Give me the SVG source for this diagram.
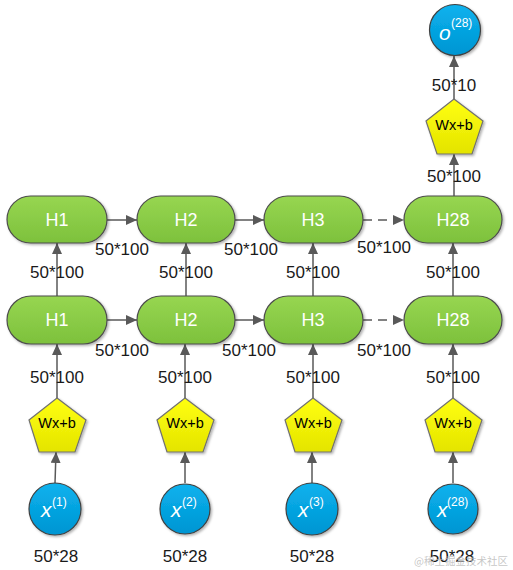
<svg xmlns="http://www.w3.org/2000/svg" width="513" height="570" viewBox="0 0 513 570">
<defs>
<linearGradient id="gGreen" x1="0" y1="0" x2="0" y2="1"><stop offset="0" stop-color="#97D651"/><stop offset="1" stop-color="#7DC13C"/></linearGradient>
<linearGradient id="gBlue" x1="0" y1="0" x2="0" y2="1"><stop offset="0" stop-color="#0BB2EE"/><stop offset="1" stop-color="#0095D2"/></linearGradient>
<linearGradient id="gYellow" x1="0" y1="0" x2="0" y2="1"><stop offset="0" stop-color="#FFFF10"/><stop offset="1" stop-color="#E4E400"/></linearGradient>
<filter id="sh" x="-20%" y="-20%" width="150%" height="150%"><feDropShadow dx="1.5" dy="1.5" stdDeviation="1.2" flood-color="#000" flood-opacity="0.3"/></filter>
<marker id="ah" markerUnits="userSpaceOnUse" markerWidth="12" markerHeight="10" refX="11" refY="5" orient="auto"><path d="M0,0 L11,5 L0,10 z" fill="#595959"/></marker>
</defs>
<style>
.h{fill:url(#gGreen);stroke:#4d4d4d;stroke-width:1.2;filter:url(#sh)}
.c{fill:url(#gBlue);stroke:#404040;stroke-width:1.2;filter:url(#sh)}
.p{fill:url(#gYellow);stroke:#707070;stroke-width:1.2;filter:url(#sh)}
.ht{font-family:"Liberation Sans",Arial,sans-serif;font-size:18px;fill:#fff;text-anchor:middle}
.pt{font-family:"Liberation Sans",Arial,sans-serif;font-size:14.5px;fill:#000;text-anchor:middle}
.lb{font-family:"Liberation Sans",Arial,sans-serif;font-size:17px;fill:#1a1a1a;text-anchor:middle}
.ct{font-family:"Liberation Sans",Arial,sans-serif;fill:#fff;font-style:italic;font-size:21px}
.sp{font-family:"Liberation Sans",Arial,sans-serif;fill:#fff;font-style:normal;font-size:12px}
.ln{stroke:#595959;stroke-width:1.5;fill:none;marker-end:url(#ah)}
.dl{stroke:#595959;stroke-width:1.5;fill:none;stroke-dasharray:9,6;marker-end:url(#ah)}
</style>
<g id="connectors">
<line class="ln" x1="454" y1="99" x2="454" y2="56"/>
<line class="ln" x1="454" y1="196" x2="454" y2="154"/>
<line class="ln" x1="107" y1="220" x2="137" y2="220"/>
<line class="ln" x1="235" y1="220" x2="264" y2="220"/>
<line class="dl" x1="363" y1="220" x2="404" y2="220"/>
<line class="ln" x1="107" y1="320" x2="137" y2="320"/>
<line class="ln" x1="235" y1="320" x2="264" y2="320"/>
<line class="dl" x1="363" y1="320" x2="404" y2="320"/>
<line class="ln" x1="57" y1="296" x2="57" y2="243"/>
<line class="ln" x1="186" y1="296" x2="186" y2="243"/>
<line class="ln" x1="313" y1="296" x2="313" y2="243"/>
<line class="ln" x1="453" y1="296" x2="453" y2="243"/>
<line class="ln" x1="57" y1="398" x2="57" y2="344"/>
<line class="ln" x1="185" y1="398" x2="185" y2="344"/>
<line class="ln" x1="313" y1="398" x2="313" y2="344"/>
<line class="ln" x1="453" y1="398" x2="453" y2="344"/>
<line class="ln" x1="55" y1="483" x2="56" y2="452"/>
<line class="ln" x1="185" y1="483" x2="185" y2="452"/>
<line class="ln" x1="312" y1="483" x2="312" y2="452"/>
<line class="ln" x1="453" y1="483" x2="453" y2="452"/>
<text class="lb" x="454" y="91">50*10</text>
<text class="lb" x="454" y="182">50*100</text>
<text class="lb" x="122" y="255">50*100</text>
<text class="lb" x="251" y="255">50*100</text>
<text class="lb" x="384" y="253">50*100</text>
<text class="lb" x="57" y="278">50*100</text>
<text class="lb" x="186" y="278">50*100</text>
<text class="lb" x="313" y="278">50*100</text>
<text class="lb" x="453" y="278">50*100</text>
<text class="lb" x="122" y="356">50*100</text>
<text class="lb" x="249" y="356">50*100</text>
<text class="lb" x="384" y="356">50*100</text>
<text class="lb" x="57" y="383">50*100</text>
<text class="lb" x="185" y="383">50*100</text>
<text class="lb" x="313" y="383">50*100</text>
<text class="lb" x="453" y="383">50*100</text>
</g>
<g id="o28"><circle class="c" cx="455" cy="30" r="25.5"/><text class="ct" x="439" y="40">o</text><text class="sp" x="451" y="27">(28)</text></g>
<g id="wxb_top"><polygon class="p" points="454,99 483,121 472,154 437,154 426,121"/><text class="pt" x="454" y="130">Wx+b</text></g>
<g id="h1_top"><rect class="h" x="7" y="196" width="100" height="47" rx="23.5"/><text class="ht" x="57" y="226">H1</text></g>
<g id="h2_top"><rect class="h" x="137" y="196" width="98" height="47" rx="23.5"/><text class="ht" x="186" y="226">H2</text></g>
<g id="h3_top"><rect class="h" x="264" y="196" width="99" height="47" rx="23.5"/><text class="ht" x="313" y="226">H3</text></g>
<g id="h28_top"><rect class="h" x="404" y="196" width="98" height="47" rx="23.5"/><text class="ht" x="453" y="226">H28</text></g>
<g id="h1_bot"><rect class="h" x="7" y="296" width="100" height="48" rx="24"/><text class="ht" x="57" y="326">H1</text></g>
<g id="h2_bot"><rect class="h" x="137" y="296" width="98" height="48" rx="24"/><text class="ht" x="186" y="326">H2</text></g>
<g id="h3_bot"><rect class="h" x="264" y="296" width="99" height="48" rx="24"/><text class="ht" x="313" y="326">H3</text></g>
<g id="h28_bot"><rect class="h" x="404" y="296" width="98" height="48" rx="24"/><text class="ht" x="453" y="326">H28</text></g>
<g id="wxb1"><polygon class="p" points="57,398 86,420 75,452 39,452 29,420"/><text class="pt" x="57" y="428">Wx+b</text></g>
<g id="wxb2"><polygon class="p" points="185,398 214,420 203,452 167,452 157,420"/><text class="pt" x="185" y="428">Wx+b</text></g>
<g id="wxb3"><polygon class="p" points="313,398 342,420 331,452 295,452 285,420"/><text class="pt" x="313" y="428">Wx+b</text></g>
<g id="wxb28"><polygon class="p" points="453,398 482,420 471,452 435,452 425,420"/><text class="pt" x="453" y="428">Wx+b</text></g>
<g id="x1"><circle class="c" cx="55" cy="509" r="26"/><text class="ct" x="41" y="517">x</text><text class="sp" x="52" y="506">(1)</text></g>
<g id="x2"><circle class="c" cx="185" cy="509" r="25"/><text class="ct" x="171" y="517">x</text><text class="sp" x="182" y="506">(2)</text></g>
<g id="x3"><circle class="c" cx="312" cy="509" r="26"/><text class="ct" x="298" y="517">x</text><text class="sp" x="309" y="506">(3)</text></g>
<g id="x28"><circle class="c" cx="453" cy="509" r="25"/><text class="ct" x="437" y="517">x</text><text class="sp" x="447" y="506">(28)</text></g>
<g id="inputs">
<text class="lb" x="56" y="562">50*28</text>
<text class="lb" x="185" y="562">50*28</text>
<text class="lb" x="312" y="562">50*28</text>
<text class="lb" x="452" y="562">50*28</text>
</g>
<text x="414" y="565" font-family="'Noto Sans CJK SC',sans-serif" font-size="10.5" fill="#b8b8b8" fill-opacity="0.8">@稀土掘金技术社区</text>
</svg>
